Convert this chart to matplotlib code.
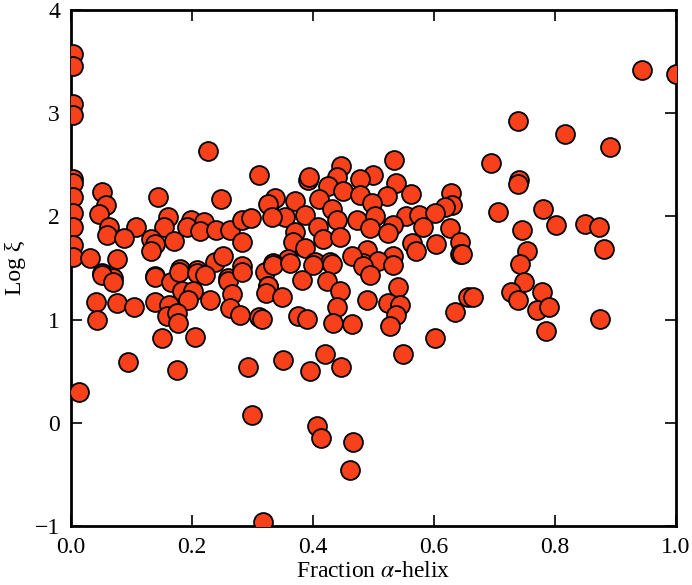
import matplotlib
matplotlib.use("Agg")
import matplotlib.pyplot as plt

# fraction alpha-helix (x) and log xi (y)
helix = [
    0.004, 0.004, 0.004, 0.004, 0.004, 0.004, 0.004, 0.004, 0.004, 0.004, 0.004, 0.013,
    0.226, 0.311, 0.051, 0.143, 0.248, 0.058, 0.047, 0.328, 0.062, 0.059, 0.107, 0.087,
    0.161, 0.153, 0.132, 0.139, 0.170, 0.133, 0.199, 0.220, 0.191, 0.213, 0.240, 0.263,
    0.282, 0.297, 0.282, 0.031, 0.076, 0.051, 0.070, 0.139, 0.180, 0.208, 0.238, 0.251,
    0.282, 0.260, 0.321,
    0.051, 0.070, 0.139, 0.166, 0.179, 0.208, 0.222, 0.183, 0.202, 0.260, 0.266, 0.282,
    0.326, 0.041, 0.076, 0.104, 0.139, 0.162, 0.194, 0.229, 0.263, 0.279, 0.311, 0.043,
    0.158, 0.175, 0.177, 0.151, 0.205, 0.095, 0.176, 0.292, 0.299,
    0.406, 0.414, 0.466, 0.461, 0.318,
    0.534, 0.447, 0.392, 0.393, 0.499, 0.478, 0.538, 0.439, 0.425, 0.450, 0.478, 0.522,
    0.562, 0.628, 0.337, 0.326, 0.370, 0.410, 0.497, 0.629, 0.618, 0.431, 0.387, 0.354,
    0.332, 0.440, 0.472, 0.502, 0.554, 0.575, 0.602, 0.626, 0.408, 0.494, 0.533, 0.582,
    0.370, 0.416, 0.445, 0.524, 0.563, 0.604, 0.643, 0.643, 0.367, 0.387, 0.489, 0.533,
    0.571, 0.359, 0.334, 0.403, 0.428, 0.483, 0.507, 0.464,
    0.334, 0.362, 0.400, 0.431, 0.483, 0.533, 0.326, 0.323, 0.348, 0.381, 0.423, 0.445,
    0.494, 0.541, 0.489, 0.524, 0.544, 0.538, 0.527, 0.439, 0.376, 0.390, 0.433, 0.464,
    0.315, 0.635, 0.656, 0.602, 0.549, 0.420, 0.351, 0.395, 0.447,
    0.739, 0.817, 0.891, 0.694, 0.741, 0.738, 0.706, 0.780, 0.745, 0.802, 0.850, 0.872,
    0.881, 0.753, 0.742, 0.748, 0.728, 0.739, 0.778, 0.770, 0.790, 0.785, 0.874, 0.664,
    0.647, 0.944, 1.000,
]
log_xi = [
    3.57, 3.46, 3.09, 2.98, 2.36, 2.32, 2.19, 2.03, 1.90, 1.72, 1.61, 0.30,
    2.63, 2.40, 2.24, 2.19, 2.17, 2.11, 2.02, 2.11, 1.90, 1.82, 1.90, 1.79,
    1.99, 1.90, 1.78, 1.73, 1.76, 1.66, 1.96, 1.95, 1.90, 1.86, 1.87, 1.87,
    1.96, 1.98, 1.75, 1.60, 1.59, 1.45, 1.40, 1.42, 1.49, 1.48, 1.56, 1.62,
    1.52, 1.40, 1.46,
    1.43, 1.36, 1.41, 1.36, 1.46, 1.45, 1.43, 1.28, 1.28, 1.37, 1.25, 1.46,
    1.33, 1.17, 1.16, 1.12, 1.17, 1.14, 1.19, 1.19, 1.11, 1.04, 1.02, 1.00,
    1.03, 1.06, 0.97, 0.82, 0.83, 0.59, 0.51, 0.54, 0.08,
    -0.03, -0.15, -0.19, -0.46, -0.96,
    2.55, 2.49, 2.35, 2.38, 2.40, 2.36, 2.32, 2.38, 2.29, 2.25, 2.21, 2.20,
    2.22, 2.23, 2.18, 2.12, 2.15, 2.17, 2.13, 2.11, 2.09, 2.07, 2.01, 1.99,
    1.99, 1.96, 1.96, 2.00, 2.00, 2.01, 2.03, 1.89, 1.90, 1.89, 1.92, 1.90,
    1.85, 1.78, 1.80, 1.84, 1.74, 1.73, 1.75, 1.64, 1.75, 1.69, 1.67, 1.62,
    1.66, 1.59, 1.55, 1.56, 1.56, 1.55, 1.57, 1.62,
    1.53, 1.55, 1.53, 1.54, 1.52, 1.53, 1.33, 1.26, 1.22, 1.38, 1.37, 1.28,
    1.43, 1.32, 1.19, 1.16, 1.14, 1.04, 0.94, 1.12, 1.03, 1.01, 0.97, 0.96,
    1.01, 1.07, 1.22, 0.82, 0.67, 0.67, 0.61, 0.50, 0.54,
    2.92, 2.80, 2.67, 2.52, 2.35, 2.31, 2.04, 2.07, 1.87, 1.92, 1.93, 1.90,
    1.68, 1.66, 1.54, 1.36, 1.27, 1.19, 1.27, 1.09, 1.12, 0.89, 1.01, 1.22,
    1.64, 3.42, 3.38,
]

plt.rcParams['font.family'] = ['Liberation Serif', 'DejaVu Serif']
plt.rcParams['mathtext.fontset'] = 'stix'

fig = plt.figure(figsize=(6.92, 5.85), dpi=100)
ax = fig.add_axes([0.1026, 0.1009, 0.8743, 0.8821])

ax.scatter(helix, log_xi, s=185, c='#f8401a', edgecolors='black', linewidths=1.3, zorder=3)

ax.set_xlim(0, 1)
ax.set_ylim(-1, 4)
ax.set_xticks([0.0, 0.2, 0.4, 0.6, 0.8, 1.0])
ax.set_xticklabels(['0.0', '0.2', '0.4', '0.6', '0.8', '1.0'])
ax.set_yticks([-1, 0, 1, 2, 3, 4])

ax.tick_params(direction='in', length=8, width=1.2, top=True, right=True,
               labelsize=17, pad=8)
for sp in ax.spines.values():
    sp.set_linewidth(2)

ax.set_xlabel(r'Fraction $\alpha$-helix', fontsize=17, labelpad=2)
ax.set_ylabel('Log ξ', fontsize=17, labelpad=6)

fig.savefig('out.png', dpi=100)
